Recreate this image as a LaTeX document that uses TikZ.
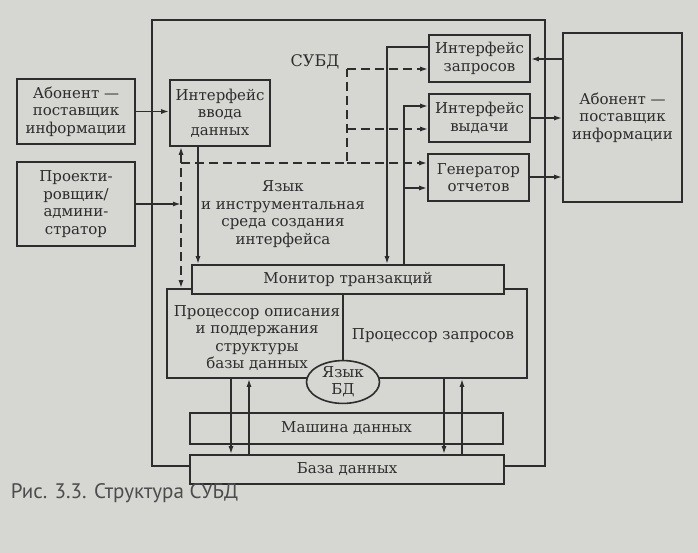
\documentclass[tikz,border=0pt]{standalone}
\usepackage{fontspec}
\setmainfont{DejaVu Serif}
\newfontfamily\capfont{PT Sans}
\usetikzlibrary{arrows.meta,shapes.geometric}

\definecolor{paper}{RGB}{214,214,211}
\definecolor{ink}{RGB}{45,45,45}

\begin{document}
\begin{tikzpicture}[x=1pt, y=-1pt, line width=1.6pt, color=ink,
  >={Latex[length=8pt,width=5pt]},
  box/.style={draw=ink, fill=paper, align=center, inner sep=0pt,
    font=\fontsize{15}{17.5}\selectfont},
  txt/.style={align=center, inner sep=0pt, font=\fontsize{15}{17.5}\selectfont},
  dashline/.style={dash pattern=on 9pt off 5pt}]
  % 底色与边界
  \fill[paper] (0,0) rectangle (698,553);
  \useasboundingbox (0,0) rectangle (698,553);

  % СУБД 外框
  \node[box, fill=none, minimum width=393pt, minimum height=446pt] (dbms) at (348.5,243) {};
  \node[txt, font=\fontsize{16}{18}\selectfont] (dbmsTitle) at (315,62) {СУБД};

  % 外部用户
  \node[box, minimum width=118pt, minimum height=65pt] (abonIn) at (76,111.5) {Абонент —\\поставщик\\информации};
  \node[box, minimum width=118pt, minimum height=84pt] (designer) at (76,204) {Проекти-\\ровщик/\\админи-\\стратор};
  \node[box, minimum width=119pt, minimum height=169pt] (abonOut) at (622.5,117.5) {Абонент —\\поставщик\\информации};

  % 接口
  \node[box, minimum width=100pt, minimum height=66pt] (inputIf) at (220,113) {Интерфейс\\ввода\\данных};
  \node[box, minimum width=101pt, minimum height=47pt] (queryIf) at (479.5,58.5) {Интерфейс\\запросов};
  \node[box, minimum width=101pt, minimum height=48pt] (outputIf) at (479.5,118) {Интерфейс\\выдачи};
  \node[box, minimum width=101pt, minimum height=47pt] (reportGen) at (478.5,177.5) {Генератор\\отчетов};
  \node[txt] (toolEnv) at (283,214) {Язык\\и инструментальная\\среда создания\\интерфейса};

  % 处理器与监视器
  \node[box, minimum width=360pt, minimum height=89pt] (procBox) at (347,333.5) {};
  \node[box, minimum width=312pt, minimum height=29pt] (monitor) at (348,279.5) {Монитор транзакций};
  \node[txt] (procDesc) at (257,338) {Процессор описания\\и поддержания\\структуры\\базы данных};
  \node[txt] (procQuery) at (433,336) {Процессор запросов};
  \node[box, ellipse, minimum width=73pt, minimum height=40pt,
    font=\fontsize{15}{17}\selectfont] (langDB) at (343,382) {Язык\\БД};
  \draw (langDB.north |- monitor.south) -- (langDB.north);

  % 数据机与数据库
  \node[box, minimum width=313pt, minimum height=31pt] (machine) at (346.5,428.5) {Машина данных};
  \node[box, minimum width=314pt, minimum height=29pt] (base) at (347,469.5) {База данных};

  % 输入连线
  \draw[->] (abonIn.east) -- (abonIn.east -| inputIf.west);
  \coordinate (dL) at (181,163);
  \draw[->] (designer.east) -- (designer.east -| dL);
  \draw[dashline, <->] (dL |- inputIf.south) -- (dL |- procBox.north);

  % 虚线：语言环境到各接口
  \coordinate (dM) at (347,163);
  \coordinate (dT) at (347,69);
  \coordinate (dO) at (347,129);
  \draw[dashline] (dL) -- (dM) -- (dT);
  \draw[dashline, ->] (dT) -- (dT -| queryIf.west);
  \draw[dashline, ->] (dO) -- (dO -| outputIf.west);
  \draw[dashline, ->] (dM) -- (dM -| reportGen.west);

  % 实线：接口与监视器
  \coordinate (sIn) at (198,146);
  \draw[->] (sIn |- inputIf.south) -- (sIn |- monitor.north);
  \coordinate (qC) at (387,47);
  \draw[->] (qC -| queryIf.west) -- (qC) -- (qC |- monitor.north);
  \coordinate (oC) at (404,106);
  \coordinate (gC) at (404,188);
  \draw[->] (oC |- monitor.north) -- (oC) -- (oC -| outputIf.west);
  \draw[->] (gC) -- (gC -| reportGen.west);

  % 右侧用户
  \draw[<-] (queryIf.east |- 0,59) -- (abonOut.west |- 0,59);
  \draw[->] (outputIf.east |- 0,118) -- (abonOut.west |- 0,118);
  \draw[->] (reportGen.east |- 0,177) -- (abonOut.west |- 0,177);

  % 处理器与数据库之间
  \foreach \x in {231,444}
    \draw[->] (\x,0 |- procBox.south) -- (\x,0 |- base.north);
  \foreach \x in {249,462}
    \draw[<-] (\x,0 |- procBox.south) -- (\x,0 |- base.north);

  % 图题
  \node[anchor=west, inner sep=0pt, text=ink!85, font=\capfont\fontsize{21}{25}\selectfont] (caption) at (10,493) {Рис. 3.3. Структура СУБД};
\end{tikzpicture}
\end{document}
